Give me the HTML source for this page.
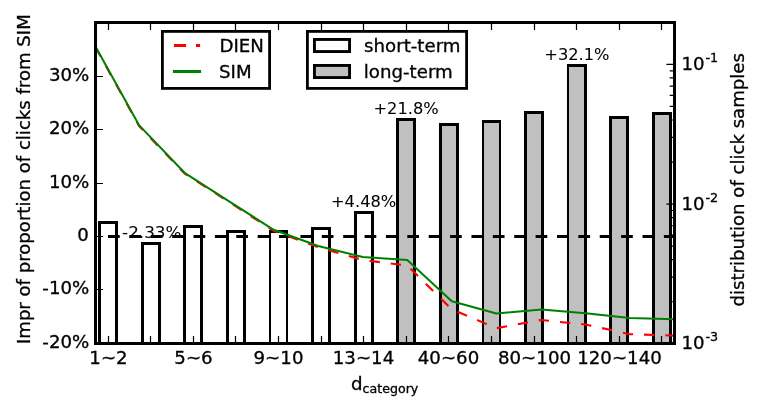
<!DOCTYPE html>
<html><head><meta charset="utf-8"><title>chart</title>
<style>html,body{margin:0;padding:0;background:#fff;width:764px;height:405px;overflow:hidden}svg{display:block}</style>
</head><body>
<svg width="764" height="405" viewBox="0 0 764 405">
<style>text{fill:#000;stroke:#000;stroke-width:0.3px;paint-order:stroke} text.an{stroke-width:0.05px}</style>
<rect width="764" height="405" fill="#fff"/>
<defs><clipPath id="ax"><rect x="95.5" y="22.5" width="579.0" height="321.0"/></clipPath></defs>
<g clip-path="url(#ax)">
<rect x="98" y="221" width="20" height="129" fill="#000"/>
<rect x="101" y="224" width="14" height="126" fill="#fff"/>
<rect x="141" y="242" width="20" height="108" fill="#000"/>
<rect x="144" y="245" width="14" height="105" fill="#fff"/>
<rect x="183" y="225" width="20" height="125" fill="#000"/>
<rect x="186" y="228" width="14" height="122" fill="#fff"/>
<rect x="226" y="230" width="20" height="120" fill="#000"/>
<rect x="229" y="233" width="14" height="117" fill="#fff"/>
<rect x="269" y="230" width="19" height="120" fill="#000"/>
<rect x="271" y="233" width="15" height="117" fill="#fff"/>
<rect x="311" y="227" width="20" height="123" fill="#000"/>
<rect x="314" y="230" width="14" height="120" fill="#fff"/>
<rect x="354" y="211" width="20" height="139" fill="#000"/>
<rect x="357" y="214" width="14" height="136" fill="#fff"/>
<rect x="396" y="118" width="20" height="232" fill="#000"/>
<rect x="399" y="121" width="14" height="229" fill="#c0c0c0"/>
<rect x="439" y="123" width="20" height="227" fill="#000"/>
<rect x="442" y="126" width="14" height="224" fill="#c0c0c0"/>
<rect x="482" y="120" width="19" height="230" fill="#000"/>
<rect x="484" y="123" width="15" height="227" fill="#c0c0c0"/>
<rect x="524" y="111" width="20" height="239" fill="#000"/>
<rect x="527" y="114" width="14" height="236" fill="#c0c0c0"/>
<rect x="567" y="64" width="20" height="286" fill="#000"/>
<rect x="569" y="67" width="15" height="283" fill="#c0c0c0"/>
<rect x="609" y="116" width="20" height="234" fill="#000"/>
<rect x="612" y="119" width="14" height="231" fill="#c0c0c0"/>
<rect x="652" y="112" width="20" height="238" fill="#000"/>
<rect x="655" y="115" width="14" height="235" fill="#c0c0c0"/>
<line x1="108" y1="236.5" x2="674.5" y2="236.5" stroke="#000" stroke-width="3" stroke-dasharray="11.7 9.68"/>
<polyline points="95.50,47.20 139.20,126.10 184.58,173.50 229.12,202.00 273.65,230.80 318.19,247.20 362.73,260.00 407.27,265.60 451.81,309.30 496.35,328.20 540.88,320.00 585.42,324.50 629.96,334.20 674.50,335.60" fill="none" stroke="#ff0000" stroke-width="2.1" stroke-dasharray="10.34 10.98"/>
<polyline points="95.50,46.50 139.20,125.40 184.58,172.80 229.12,201.30 273.65,229.80 318.19,246.00 362.73,257.00 407.27,260.10 451.81,301.20 496.35,313.50 541.50,309.40 585.42,313.30 629.96,317.90 674.50,319.30" fill="none" stroke="#008000" stroke-width="2.0" stroke-linejoin="round"/>
</g>
<path d="M108.50,24.0v6M108.50,342.0v-6M150.50,24.0v6M150.50,342.0v-6M193.50,24.0v6M193.50,342.0v-6M235.50,24.0v6M235.50,342.0v-6M278.50,24.0v6M278.50,342.0v-6M321.50,24.0v6M321.50,342.0v-6M363.50,24.0v6M363.50,342.0v-6M406.50,24.0v6M406.50,342.0v-6M448.50,24.0v6M448.50,342.0v-6M491.50,24.0v6M491.50,342.0v-6M534.50,24.0v6M534.50,342.0v-6M576.50,24.0v6M576.50,342.0v-6M619.50,24.0v6M619.50,342.0v-6M661.50,24.0v6M661.50,342.0v-6M97.0,76.50h6M97.0,129.50h6M97.0,183.50h6M97.0,236.50h6M97.0,289.50h6M97.0,343.00h6M673.0,343.80h-6.6M673.0,204.10h-6.6M673.0,64.40h-6.6M673.0,301.75h-3.3M673.0,277.15h-3.3M673.0,259.69h-3.3M673.0,246.15h-3.3M673.0,235.09h-3.3M673.0,225.74h-3.3M673.0,217.64h-3.3M673.0,210.49h-3.3M673.0,162.05h-3.3M673.0,137.45h-3.3M673.0,119.99h-3.3M673.0,106.45h-3.3M673.0,95.39h-3.3M673.0,86.04h-3.3M673.0,77.94h-3.3M673.0,70.79h-3.3" stroke="#000" stroke-width="1.2" fill="none"/>
<rect x="95.5" y="22.5" width="579.0" height="321.0" fill="none" stroke="#000" stroke-width="3"/>
<text  transform="translate(89.30,81.10) scale(1.07,1)" text-anchor="end" style="font-family:'DejaVu Sans',sans-serif;font-size:17.0px">30%</text>
<text  transform="translate(89.30,134.10) scale(1.07,1)" text-anchor="end" style="font-family:'DejaVu Sans',sans-serif;font-size:17.0px">20%</text>
<text  transform="translate(89.30,188.10) scale(1.07,1)" text-anchor="end" style="font-family:'DejaVu Sans',sans-serif;font-size:17.0px">10%</text>
<text  transform="translate(88.80,241.10) scale(1.07,1)" text-anchor="end" style="font-family:'DejaVu Sans',sans-serif;font-size:17.0px">0</text>
<text  transform="translate(89.30,294.10) scale(1.07,1)" text-anchor="end" style="font-family:'DejaVu Sans',sans-serif;font-size:17.0px">-10%</text>
<text  transform="translate(89.30,347.60) scale(1.07,1)" text-anchor="end" style="font-family:'DejaVu Sans',sans-serif;font-size:17.0px">-20%</text>
<text  transform="translate(681.50,70.00) scale(1.07,1)" text-anchor="start" style="font-family:'DejaVu Sans',sans-serif;font-size:17.0px">10</text>
<text  transform="translate(705.50,62.00) scale(1.07,1)" text-anchor="start" style="font-family:'DejaVu Sans',sans-serif;font-size:11.899999999999999px">-1</text>
<text  transform="translate(681.50,210.00) scale(1.07,1)" text-anchor="start" style="font-family:'DejaVu Sans',sans-serif;font-size:17.0px">10</text>
<text  transform="translate(705.50,202.00) scale(1.07,1)" text-anchor="start" style="font-family:'DejaVu Sans',sans-serif;font-size:11.899999999999999px">-2</text>
<text  transform="translate(681.50,348.75) scale(1.07,1)" text-anchor="start" style="font-family:'DejaVu Sans',sans-serif;font-size:17.0px">10</text>
<text  transform="translate(705.50,340.75) scale(1.07,1)" text-anchor="start" style="font-family:'DejaVu Sans',sans-serif;font-size:11.899999999999999px">-3</text>
<text  transform="translate(108.50,363.50) scale(1.07,1)" text-anchor="middle" style="font-family:'DejaVu Sans',sans-serif;font-size:17.0px">1~2</text>
<text  transform="translate(193.50,363.50) scale(1.07,1)" text-anchor="middle" style="font-family:'DejaVu Sans',sans-serif;font-size:17.0px">5~6</text>
<text  transform="translate(278.50,363.50) scale(1.07,1)" text-anchor="middle" style="font-family:'DejaVu Sans',sans-serif;font-size:17.0px">9~10</text>
<text  transform="translate(363.50,363.50) scale(1.07,1)" text-anchor="middle" style="font-family:'DejaVu Sans',sans-serif;font-size:17.0px">13~14</text>
<text  transform="translate(448.50,363.50) scale(1.07,1)" text-anchor="middle" style="font-family:'DejaVu Sans',sans-serif;font-size:17.0px">40~60</text>
<text  transform="translate(534.50,363.50) scale(1.07,1)" text-anchor="middle" style="font-family:'DejaVu Sans',sans-serif;font-size:17.0px">80~100</text>
<text  transform="translate(619.50,363.50) scale(1.07,1)" text-anchor="middle" style="font-family:'DejaVu Sans',sans-serif;font-size:17.0px">120~140</text>
<text  transform="translate(350.90,389.90) scale(1.08,1)" text-anchor="start" style="font-family:'DejaVu Sans',sans-serif;font-size:16.9px">d</text>
<text  transform="translate(362.60,392.60) scale(1.07,1)" text-anchor="start" style="font-family:'DejaVu Sans',sans-serif;font-size:11.8px">category</text>
<text transform="translate(30.0,179.15) scale(0.99,1) rotate(-90)" text-anchor="middle" style="font-family:'DejaVu Sans',sans-serif;font-size:18.1px">Impr of proportion of clicks from SIM</text>
<text transform="translate(743.5,179.83) scale(1.0,1) rotate(-90)" text-anchor="middle" style="font-family:'DejaVu Sans',sans-serif;font-size:18.1px">distribution of click samples</text>
<text class="an" transform="translate(122.10,237.60) scale(1.105,1)" text-anchor="start" style="font-family:'DejaVu Sans',sans-serif;font-size:15.2px">-2.33%</text>
<text class="an" transform="translate(331.00,206.80) scale(1.07,1)" text-anchor="start" style="font-family:'DejaVu Sans',sans-serif;font-size:15.2px">+4.48%</text>
<text class="an" transform="translate(373.50,113.60) scale(1.07,1)" text-anchor="start" style="font-family:'DejaVu Sans',sans-serif;font-size:15.2px">+21.8%</text>
<text class="an" transform="translate(544.30,59.50) scale(1.07,1)" text-anchor="start" style="font-family:'DejaVu Sans',sans-serif;font-size:15.2px">+32.1%</text>
<rect x="162.4" y="31.4" width="107.2" height="57" fill="#fff" stroke="#000" stroke-width="2.8"/>
<line x1="173.9" y1="45.5" x2="200.1" y2="45.5" stroke="#ff0000" stroke-width="2.8" stroke-dasharray="12.2 9.85"/>
<line x1="172.9" y1="71.5" x2="201.1" y2="71.5" stroke="#008000" stroke-width="3"/>
<text  transform="translate(219.40,51.50) scale(1.07,1)" text-anchor="start" style="font-family:'DejaVu Sans',sans-serif;font-size:17.0px">DIEN</text>
<text  transform="translate(219.00,77.60) scale(1.07,1)" text-anchor="start" style="font-family:'DejaVu Sans',sans-serif;font-size:17.0px">SIM</text>
<rect x="307.4" y="31.4" width="159.2" height="57" fill="#fff" stroke="#000" stroke-width="2.8"/>
<rect x="314.45" y="39.45" width="35.1" height="12.1" fill="#fff" stroke="#000" stroke-width="2.9"/>
<rect x="314.45" y="65.45" width="35.1" height="12.1" fill="#c0c0c0" stroke="#000" stroke-width="2.9"/>
<text  transform="translate(364.10,51.80) scale(1.07,1)" text-anchor="start" style="font-family:'DejaVu Sans',sans-serif;font-size:17.0px">short-term</text>
<text  transform="translate(363.80,77.60) scale(1.07,1)" text-anchor="start" style="font-family:'DejaVu Sans',sans-serif;font-size:17.0px">long-term</text>
</svg>
</body></html>
